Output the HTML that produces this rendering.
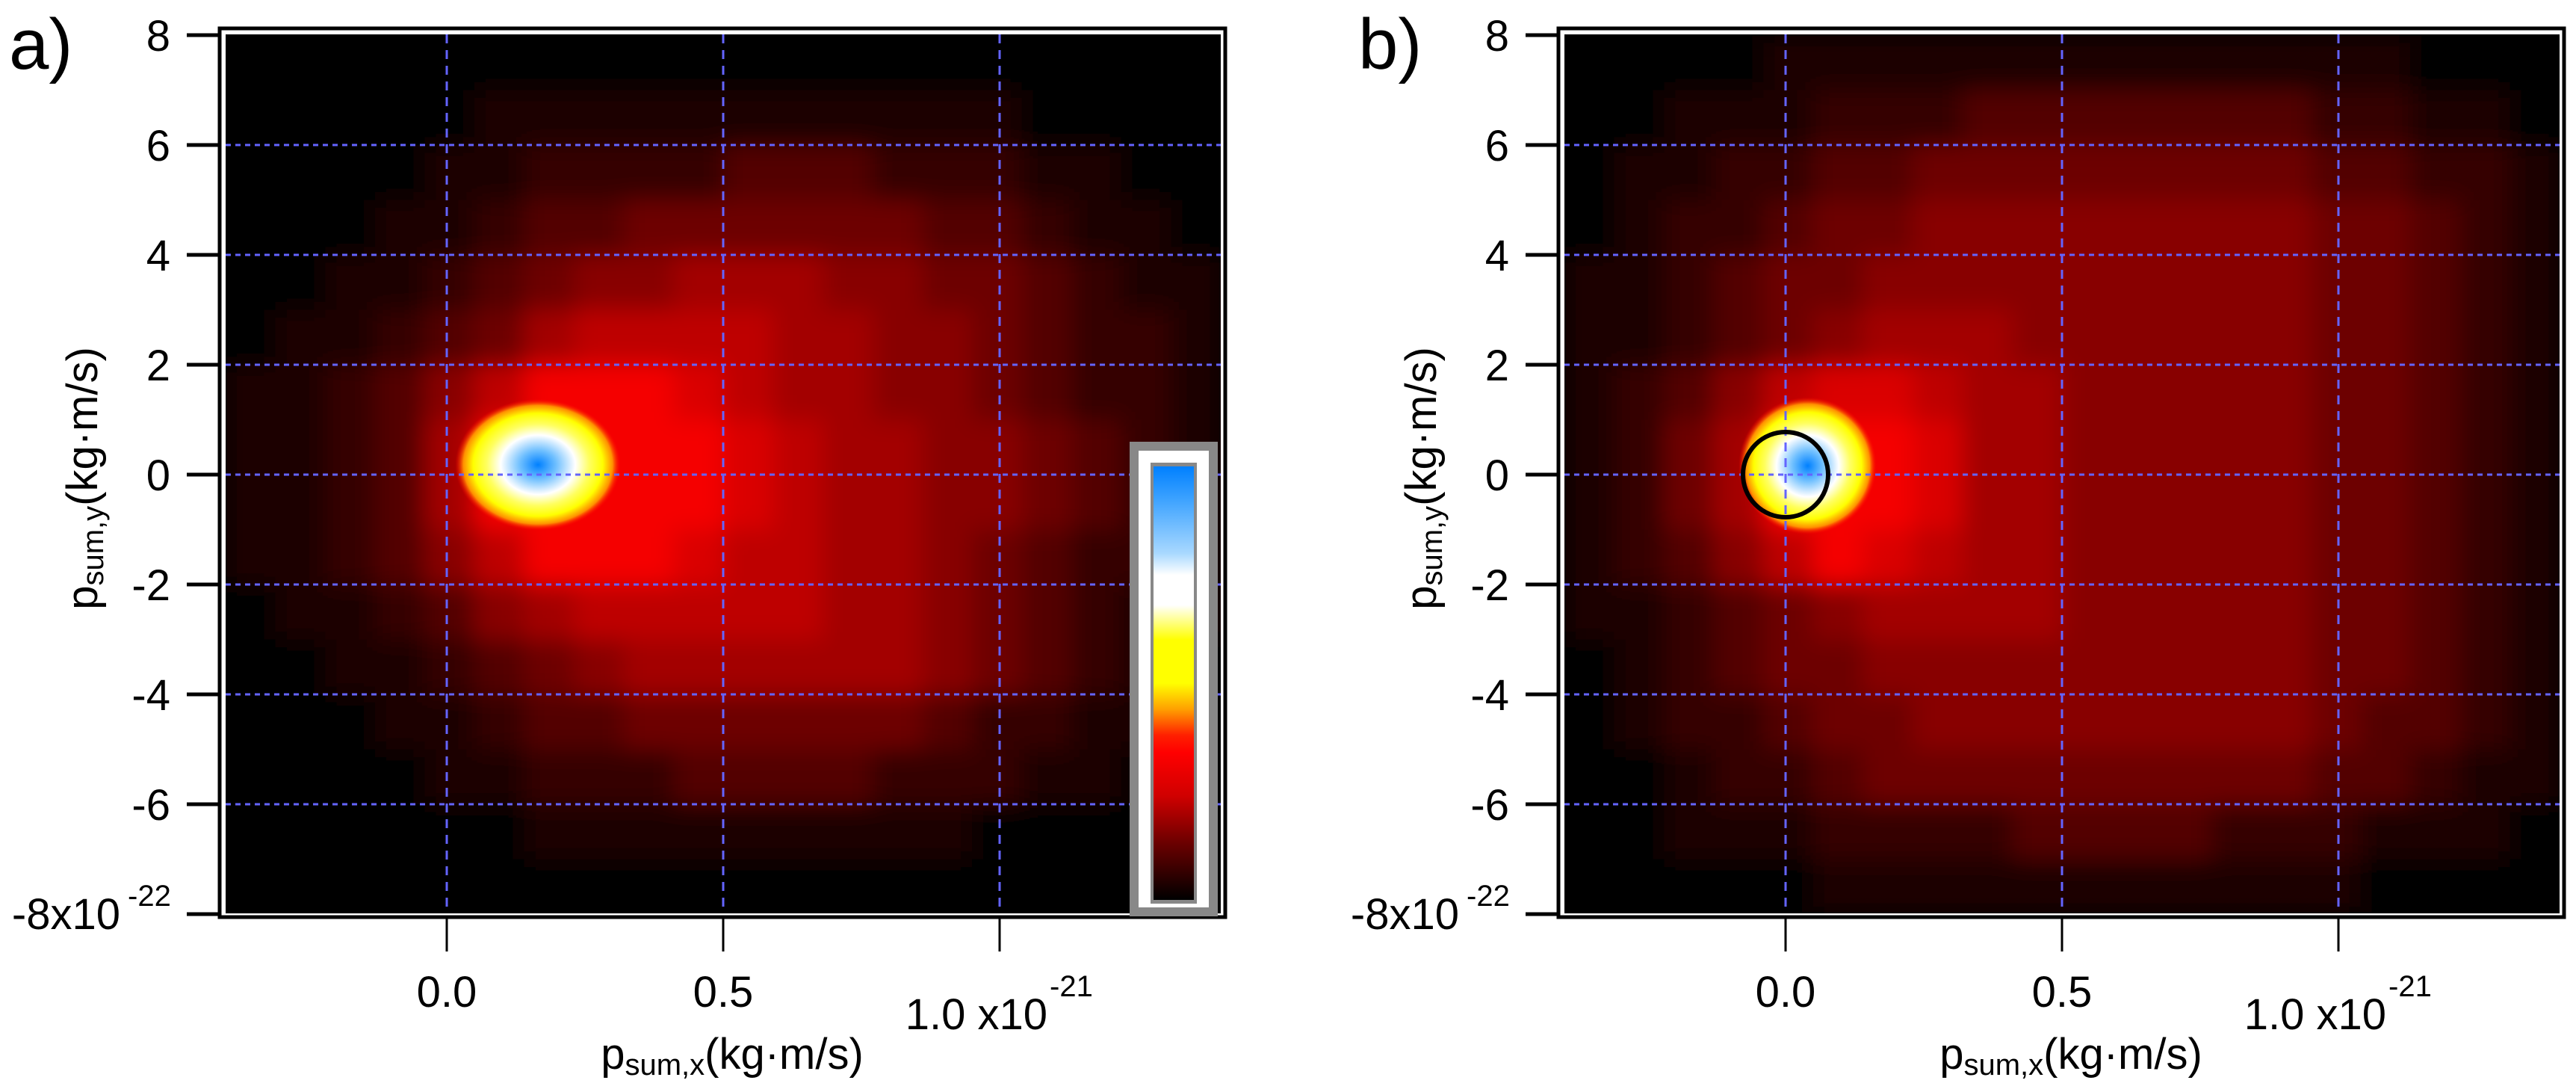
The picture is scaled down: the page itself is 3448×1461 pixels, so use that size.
<!DOCTYPE html>
<html><head><meta charset="utf-8"><style>
html,body{margin:0;padding:0;background:#fff;}
svg{display:block;font-family:"Liberation Sans",sans-serif;}
</style></head><body>
<svg id="fig" width="3448" height="1461" viewBox="0 0 3448 1461" xmlns="http://www.w3.org/2000/svg">
<defs>
<linearGradient id="cbar" x1="0" y1="0" x2="0" y2="1">
<stop offset="0" stop-color="#0080ff"/><stop offset="0.08" stop-color="#40a4ff"/><stop offset="0.2" stop-color="#a8d8ff"/><stop offset="0.25" stop-color="#ffffff"/><stop offset="0.32" stop-color="#ffffff"/><stop offset="0.4" stop-color="#ffff00"/><stop offset="0.5" stop-color="#ffff00"/><stop offset="0.56" stop-color="#ffa000"/><stop offset="0.62" stop-color="#ff2000"/><stop offset="0.66" stop-color="#ff0000"/><stop offset="0.76" stop-color="#d00000"/><stop offset="0.87" stop-color="#6a0000"/><stop offset="1" stop-color="#000000"/>
</linearGradient>
<radialGradient id="hot">
<stop offset="0" stop-color="#0080ff"/><stop offset="0.22" stop-color="#70c0ff"/><stop offset="0.45" stop-color="#ffffff"/><stop offset="0.62" stop-color="#ffff60"/><stop offset="0.78" stop-color="#ffff00"/><stop offset="0.9" stop-color="#ff9000"/><stop offset="1" stop-color="#ff0000" stop-opacity="0"/>
</radialGradient>
<filter id="blur" x="-5%" y="-5%" width="110%" height="110%"><feGaussianBlur stdDeviation="16"/></filter>
<clipPath id="clipA"><rect x="302" y="46" width="1332" height="1176"/></clipPath>
<clipPath id="clipB"><rect x="2094" y="46" width="1332" height="1176"/></clipPath>
</defs>
</svg>
<script>
const xTicks=[0.0,0.5,1.0];
const xTickLabels=["0.0","0.5","1.0 x10"];
const yTicks=[8,6,4,2,0,-2,-4,-6,-8];
const yTickLabels=["8","6","4","2","0","-2","-4","-6","-8x10"];
const yGrid=[6,4,2,0,-2,-4,-6];
const cellX0=-0.4, cellDX=0.09, cellY0=8, cellDY=1;
const gridA=[
"00000000000000000000",
"00000111111111110000",
"00001122223332221100",
"00011233444444332110",
"00112345566655443211",
"01123467777665543221",
"11235799987665543221",
"11236999998766554321",
"11236999998766554321",
"11235799987766543221",
"01123567777766543211",
"00112345666666543210",
"00011233444444322110",
"00001122233332221100",
"00000011111111100000",
"00000000000000000000"];
const gridB=[
"00001111111111111000",
"00111222333333322110",
"01122334444444433221",
"01223445555555544321",
"11234455555555544321",
"11234566655555544321",
"12357887665555544321",
"12469998665555544321",
"12469998665555544321",
"12357987665555544321",
"11234566665555544321",
"01234455555555544321",
"01223445555555543321",
"00122344444444433211",
"00111222233332221110",
"00000111111111110000"];
const hotX=[0.165,0.04], hotY=[0.18,0.16], hotRx=[0.15,0.125], hotRy=[1.2,1.25];
const circleX=0.0, circleY=0.0, circleR=0.077;

const NS="http://www.w3.org/2000/svg";
const svg=document.getElementById('fig');
function mk(tag,attrs,parent){const e=document.createElementNS(NS,tag);for(const k in attrs)e.setAttribute(k,attrs[k]);(parent||svg).appendChild(e);return e;}
function cmap(t){
  const st=[[0,0,0,0],[0.45,255,0,0],[0.6,255,140,0],[0.7,255,255,0],[0.8,255,255,255],[1,0,128,255]];
  for(let i=1;i<st.length;i++){if(t<=st[i][0]){const a=st[i-1],b=st[i];const f=(t-a[0])/(b[0]-a[0]);
    return `rgb(${Math.round(a[1]+f*(b[1]-a[1]))},${Math.round(a[2]+f*(b[2]-a[2]))},${Math.round(a[3]+f*(b[3]-a[3]))})`;}}
  return 'rgb(0,128,255)';
}
const dx=[0,1792];
const panels=[{grid:gridA,clip:'clipA',name:'a'},{grid:gridB,clip:'clipB',name:'b'}];
panels.forEach((p,pi)=>{
  const off=dx[pi];
  const X=v=>598+off+740*v;
  const Y=v=>635-73.5*v;
  const g=mk('g',{});
  
  
  const fr=mk('rect',{x:294+off,y:38,width:1346,height:1189,fill:'#fff',stroke:'#000','stroke-width':5},g);
  
  
  mk('rect',{x:302+off,y:46,width:1332,height:1176,fill:'#000'},g);
  const hm=mk('g',{'clip-path':`url(#${p.clip})`},g);
  
  
  const cells=mk('g',{filter:'url(#blur)'},hm);
  p.grid.forEach((row,ri)=>{
    for(let ci=0;ci<row.length;ci++){
      const v=parseInt(row[ci])*0.048;
      const x0=X(cellX0+ci*cellDX), x1=X(cellX0+(ci+1)*cellDX);
      const y0=Y(cellY0-ri*cellDY), y1=Y(cellY0-(ri+1)*cellDY);
      const r=mk('rect',{x:x0,y:y0,width:x1-x0+0.5,height:y1-y0+0.5,fill:cmap(v)},cells);
      
      
    }
  });
  const hs=mk('ellipse',{cx:X(hotX[pi]),cy:Y(hotY[pi]),rx:740*hotRx[pi],ry:73.5*hotRy[pi],fill:'url(#hot)'},hm);
  
  
  xTicks.forEach(t=>{const l=mk('line',{x1:X(t),x2:X(t),y1:46,y2:1222,stroke:'#6464ff','stroke-width':3,'stroke-dasharray':'12 9'},g);
    });
  yGrid.forEach(t=>{const l=mk('line',{x1:302+off,x2:1634+off,y1:Y(t),y2:Y(t),stroke:'#6464ff','stroke-width':3,'stroke-dasharray':'7 6'},g);
    });
  yTicks.forEach((t,i)=>{
    const l=mk('line',{x1:250+off,x2:294+off,y1:Y(t),y2:Y(t),stroke:'#000','stroke-width':5},g);
    
    const last=i==yTicks.length-1;
    const tx=mk('text',{x:(last?161:228)+off,y:Y(t)+(last?20:21),'font-size':58,'text-anchor':'end',fill:'#000'},g);
    tx.textContent=yTickLabels[i];
    
  });
  const ys=mk('text',{x:171+off,y:1212,'font-size':40,fill:'#000'},g);
  ys.textContent='-22';
  
  xTicks.forEach((t,i)=>{
    const l=mk('line',{x1:X(t),x2:X(t),y1:1227,y2:1273,stroke:'#000','stroke-width':3},g);
    
    const last=i==xTicks.length-1;
    const tx=mk('text',{x:last?X(t)+64:X(t),y:last?1377:1347,'font-size':58,'text-anchor':last?'end':'middle',fill:'#000'},g);
    tx.textContent=xTickLabels[i];
    
    if(last){const s=mk('text',{x:X(t)+67,y:1333,'font-size':40,fill:'#000'},g);s.textContent='-21';
      }
  });
  const xt=mk('text',{x:X(0.5)+12,y:1430,'font-size':58,'text-anchor':'middle',fill:'#000'},g);
  xt.innerHTML='p<tspan font-size="40" dy="8">sum,x</tspan><tspan dy="-8">(kg·m/s)</tspan>';
  
  const yt=mk('text',{x:0,y:0,'font-size':58,'text-anchor':'middle',fill:'#000',transform:`translate(${130+off},640) rotate(-90)`},g);
  yt.innerHTML='p<tspan font-size="40" dy="8">sum,y</tspan><tspan dy="-8">(kg·m/s)</tspan>';
  
  const pl=mk('text',{x:12+off+(pi==1?14:0),y:92,'font-size':96,fill:'#000'},g);
  pl.textContent=pi==0?'a)':'b)';
  
  if(pi==1){
    const c=mk('circle',{cx:X(circleX),cy:Y(circleY),r:740*circleR,fill:'none',stroke:'#000','stroke-width':6},g);
    
  } else {
    const cb=mk('g',{},g);
    
    mk('rect',{x:1518,y:597,width:106,height:623,fill:'#fff',stroke:'#888','stroke-width':12},cb);
    mk('rect',{x:1540,y:619,width:62,height:590,fill:'#888'},cb);
    mk('rect',{x:1544,y:624,width:54,height:580,fill:'url(#cbar)'},cb);
  }
});
</script>
</body></html>
